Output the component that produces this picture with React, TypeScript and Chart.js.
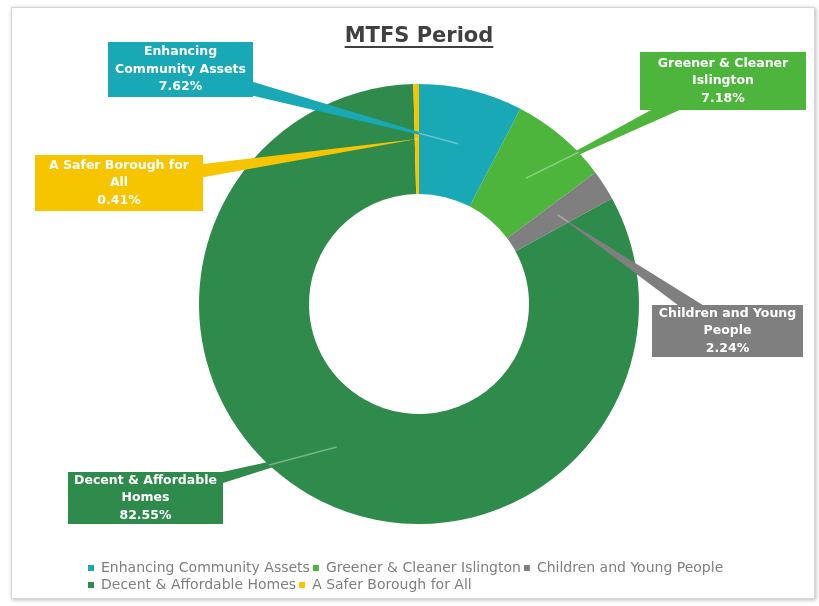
import React, { useEffect, useRef } from "react";
import { Chart, registerables } from "chart.js";

Chart.register(...registerables);

// ---- data ----
const categories = [
  "Enhancing Community Assets",
  "Greener & Cleaner Islington",
  "Children and Young People",
  "Decent & Affordable Homes",
  "A Safer Borough for All",
];
const shares = [7.62, 7.18, 2.24, 82.55, 0.41];
const calloutLines = [
  ["Enhancing", "Community Assets"],
  ["Greener & Cleaner", "Islington"],
  ["Children and Young", "People"],
  ["Decent & Affordable", "Homes"],
  ["A Safer Borough for", "All"],
];
const titleText = "MTFS Period";

// ---- styles / layout ----
const sliceColors = ["#19a8b5", "#4db43c", "#7f7f7f", "#2e8b4b", "#f6c500"];
const calloutBoxes = [
  { cx: 180.5, cy: 69.5, w: 145, h: 55 },
  { cx: 723, cy: 81, w: 166, h: 58 },
  { cx: 727.5, cy: 331, w: 151, h: 52 },
  { cx: 145.5, cy: 498, w: 155, h: 52 },
  { cx: 119, cy: 183, w: 168, h: 56 },
];
const LABEL_FONT = "bold 12.5px 'DejaVu Sans', sans-serif";
const TITLE_FONT_SIZE = 21;

const decorPlugin = {
  id: "decor",
  beforeDraw(chart: any) {
    const ctx = chart.ctx;
    ctx.save();
    ctx.fillStyle = "#ffffff";
    ctx.fillRect(0, 0, chart.width, chart.height);
    ctx.shadowColor = "rgba(0,0,0,0.28)";
    ctx.shadowBlur = 4;
    ctx.shadowOffsetX = 1;
    ctx.shadowOffsetY = 1;
    ctx.fillRect(11, 7, 804, 592);
    ctx.shadowColor = "transparent";
    ctx.strokeStyle = "#d6d6d6";
    ctx.lineWidth = 1;
    ctx.strokeRect(11.5, 7.5, 803, 591);
    ctx.restore();
  },
  afterDatasetsDraw(chart: any) {
    const ctx = chart.ctx;
    const meta = chart.getDatasetMeta(0);
    const values = chart.data.datasets[0].data as number[];
    const total = values.reduce((a, b) => a + b, 0);
    // wedges
    meta.data.forEach((arc: any, i: number) => {
      const box = calloutBoxes[i];
      const p = arc.getCenterPoint();
      const dx = p.x - box.cx;
      const dy = p.y - box.cy;
      const len = Math.hypot(dx, dy) || 1;
      const nx = -dy / len;
      const ny = dx / len;
      const hb = 9;
      ctx.save();
      ctx.fillStyle = sliceColors[i];
      ctx.beginPath();
      ctx.moveTo(box.cx + nx * hb, box.cy + ny * hb);
      ctx.lineTo(p.x, p.y);
      ctx.lineTo(box.cx - nx * hb, box.cy - ny * hb);
      ctx.closePath();
      ctx.fill();
      // faint light edge of the pointer where it lies on its own slice
      const a = arc.getProps(["x", "y", "startAngle", "endAngle", "innerRadius", "outerRadius"]);
      ctx.beginPath();
      ctx.arc(a.x, a.y, a.outerRadius, a.startAngle, a.endAngle);
      ctx.arc(a.x, a.y, a.innerRadius, a.endAngle, a.startAngle, true);
      ctx.closePath();
      ctx.clip();
      ctx.strokeStyle = "rgba(255,255,255,0.35)";
      ctx.lineWidth = 1.5;
      ctx.beginPath();
      ctx.moveTo(box.cx, box.cy);
      ctx.lineTo(p.x, p.y);
      ctx.stroke();
      ctx.restore();
    });
    // boxes + text
    meta.data.forEach((_arc: any, i: number) => {
      const box = calloutBoxes[i];
      ctx.save();
      ctx.fillStyle = sliceColors[i];
      ctx.fillRect(box.cx - box.w / 2, box.cy - box.h / 2, box.w, box.h);
      const pct = ((values[i] / total) * 100).toFixed(2) + "%";
      const lines = [...calloutLines[i], pct];
      ctx.fillStyle = "#ffffff";
      ctx.font = LABEL_FONT;
      ctx.textAlign = "center";
      ctx.textBaseline = "middle";
      const lh = 17.5;
      const y0 = box.cy - ((lines.length - 1) * lh) / 2;
      lines.forEach((t, k) => ctx.fillText(t, box.cx, y0 + k * lh));
      ctx.restore();
    });
  },
  afterDraw(chart: any) {
    const ctx = chart.ctx;
    const tb = chart.titleBlock;
    if (!tb) return;
    ctx.save();
    ctx.font = `bold ${TITLE_FONT_SIZE}px 'DejaVu Sans', sans-serif`;
    const w = ctx.measureText(titleText).width;
    const cx = (tb.left + tb.right) / 2;
    const cy = tb.top + 14.4 + (TITLE_FONT_SIZE * 1.2) / 2;
    ctx.strokeStyle = "#404040";
    ctx.lineWidth = 1.8;
    ctx.beginPath();
    ctx.moveTo(cx - w / 2, cy + 10);
    ctx.lineTo(cx + w / 2, cy + 10);
    ctx.stroke();
    ctx.restore();
  },
};

export default function App() {
  const ref = useRef<HTMLCanvasElement | null>(null);
  useEffect(() => {
    if (!ref.current) return;
    const chart = new Chart(ref.current, {
      type: "doughnut",
      data: {
        labels: categories,
        datasets: [
          {
            data: shares,
            backgroundColor: sliceColors,
            borderWidth: 0,
            radius: 220,
          } as any,
        ],
      },
      options: {
        animation: false,
        responsive: true,
        maintainAspectRatio: false,
        events: [],
        cutout: "50%",
        layout: { padding: { left: 85, right: 66, top: 10, bottom: 4 } },
        plugins: {
          tooltip: { enabled: false },
          title: {
            display: true,
            text: titleText,
            color: "#404040",
            font: { family: "'DejaVu Sans', sans-serif", size: TITLE_FONT_SIZE, weight: "bold" },
            padding: { top: 14.4, bottom: 0.4 },
          },
          legend: {
            position: "bottom",
            align: "start",
            labels: {
              color: "#7f7f7f",
              font: { family: "'DejaVu Sans', sans-serif", size: 14 },
              boxWidth: 6,
              boxHeight: 6,
              padding: 3,
            },
          },
        },
      },
      plugins: [decorPlugin],
    });
    return () => chart.destroy();
  }, []);
  return (
    <div style={{ position: "absolute", left: 0, top: 0, width: 819, height: 606 }}>
      <canvas ref={ref} />
    </div>
  );
}
